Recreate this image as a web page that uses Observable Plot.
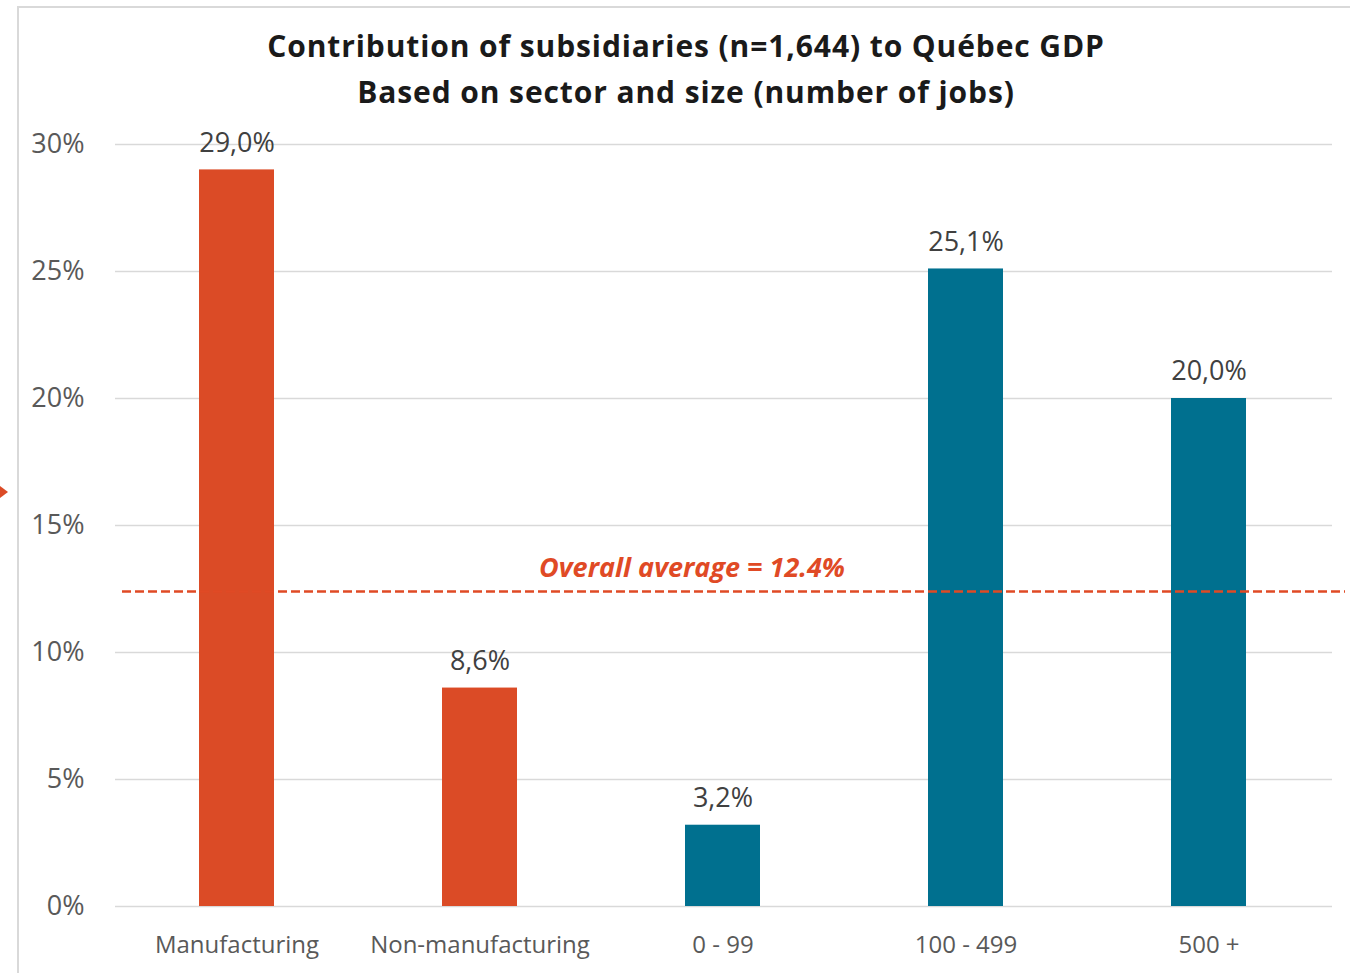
<!DOCTYPE html>
<html>
<head>
<meta charset="utf-8">
<script src="https://cdn.jsdelivr.net/npm/d3@7"></script>
<script src="https://cdn.jsdelivr.net/npm/@observablehq/plot@0.6"></script>
<style>
  html, body { margin: 0; padding: 0; background: #fff; overflow: hidden; }
  body { width: 1350px; height: 973px; position: relative; font-family: "Open Sans", sans-serif; }
  #frame { position: absolute; left: 17px; top: 6px; width: 1400px; height: 1000px;
           border-left: 2px solid #d9d9d9; border-top: 2px solid #d9d9d9; }
  #arrow { position: absolute; left: 0; top: 486px; width: 0; height: 0;
           border-top: 6px solid transparent; border-bottom: 6px solid transparent; border-left: 8px solid #db4b26; }
  #title { position: absolute; left: 0; top: 0; width: 1372px; height: 120px; text-align: center;
           font-weight: 700; font-size: 30px; letter-spacing: 0.9px; color: #1a1a1a; line-height: 46px; padding-top: 23px; box-sizing: border-box; }
  #chart { position: absolute; left: 0; top: 120px; }
</style>
</head>
<body>
<div id="frame"></div>
<div id="arrow"></div>
<div id="title">Contribution of subsidiaries (n=1,644) to Québec GDP<br>Based on sector and size (number of jobs)</div>
<div id="chart"></div>
<script>
const categories = ["Manufacturing", "Non-manufacturing", "0 - 99", "100 - 499", "500 +"];
const values = [0.290, 0.086, 0.032, 0.251, 0.200];
const groups = ["sector", "sector", "size", "size", "size"];
const yTicks = [0, 0.05, 0.10, 0.15, 0.20, 0.25, 0.30];
const overallAverage = 0.124;
const averageLabel = "Overall average = 12.4%";

const data = categories.map((c, i) => ({category: c, value: values[i], group: groups[i]}));
const fmtComma = v => (v * 100).toFixed(1).replace(".", ",") + "%";

const chart = Plot.plot({
  width: 1350,
  height: 853,
  marginTop: 24,
  marginBottom: 67,
  marginLeft: 113,
  marginRight: 18,
  style: {fontFamily: "Open Sans, sans-serif", background: "transparent"},
  x: {domain: categories, paddingInner: 0.69, paddingOuter: 0.345, label: null},
  y: {domain: [0, 0.30], label: null},
  color: {domain: ["sector", "size"], range: ["#db4b26", "#00708f"]},
  marks: [
    Plot.gridY(yTicks, {stroke: "#d9d9d9", strokeOpacity: 1, strokeWidth: 1.5, insetLeft: 2}),
    Plot.axisY(yTicks, {tickSize: 0, tickPadding: 29, tickFormat: d => Math.round(d * 100) + "%",
      fontSize: 27, fill: "#595959", label: null}),
    Plot.axisX({tickSize: 0, tickPadding: 29, fontSize: 24, fill: "#595959", label: null}),
    Plot.barY(data, {x: "category", y: "value", fill: "group"}),
    Plot.text(data, {x: "category", y: "value", text: d => fmtComma(d.value), dy: -27,
      fontSize: 27, fill: "#404040"}),
    Plot.ruleY([overallAverage], {stroke: "#e04a25", strokeWidth: 2.5, strokeDasharray: "9,4",
      insetLeft: 9, insetRight: -13}),
    Plot.text([overallAverage], {y: d => d, text: () => averageLabel, frameAnchor: "middle",
      dx: -31, dy: -23, fontSize: 27, fontWeight: 700, fontStyle: "italic", fill: "#e04a25"})
  ]
});
chart.style.overflow = "visible";
document.getElementById("chart").appendChild(chart);
</script>
</body>
</html>
